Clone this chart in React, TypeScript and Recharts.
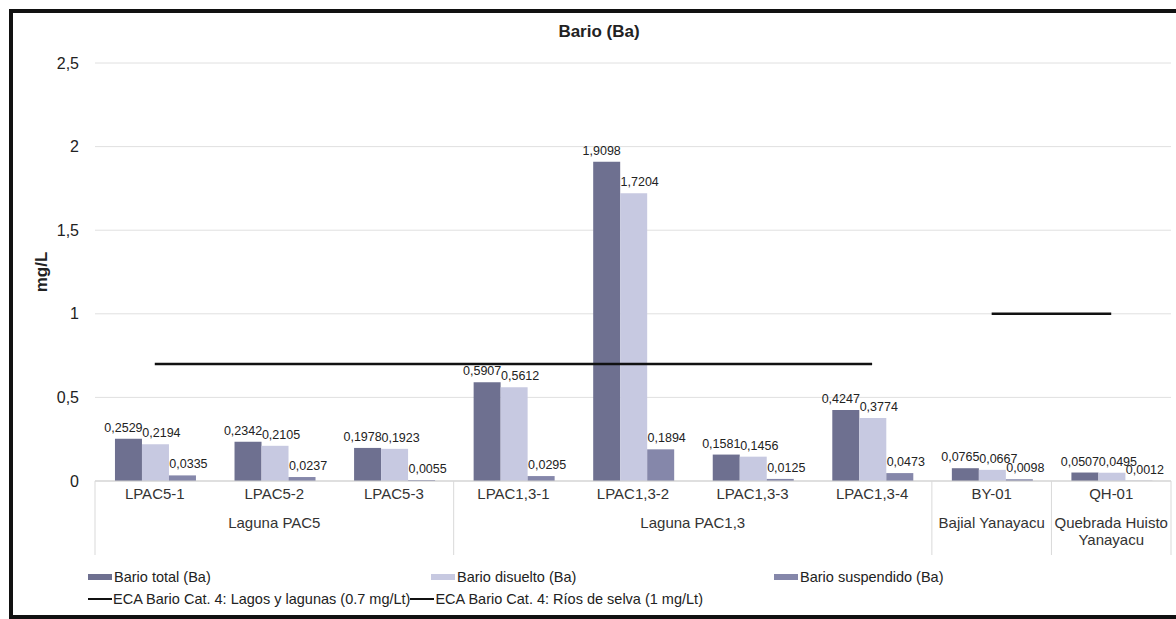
import { ComposedChart, Bar, Line, XAxis, YAxis, CartesianGrid, Legend, LabelList } from "recharts"

const estaciones = ["LPAC5-1", "LPAC5-2", "LPAC5-3", "LPAC1,3-1", "LPAC1,3-2", "LPAC1,3-3", "LPAC1,3-4", "BY-01", "QH-01"]
const grupos = [
  "Laguna PAC5",
  "Laguna PAC5",
  "Laguna PAC5",
  "Laguna PAC1,3",
  "Laguna PAC1,3",
  "Laguna PAC1,3",
  "Laguna PAC1,3",
  "Bajial Yanayacu",
  "Quebrada Huisto Yanayacu",
]
const barioTotal = [0.2529, 0.2342, 0.1978, 0.5907, 1.9098, 0.1581, 0.4247, 0.0765, 0.0507]
const barioDisuelto = [0.2194, 0.2105, 0.1923, 0.5612, 1.7204, 0.1456, 0.3774, 0.0667, 0.0495]
const barioSuspendido = [0.0335, 0.0237, 0.0055, 0.0295, 0.1894, 0.0125, 0.0473, 0.0098, 0.0012]
const ecaLagos = [0.7, 0.7, 0.7, 0.7, 0.7, 0.7, 0.7, null, null]
const ecaRios = [null, null, null, null, null, null, null, 1, 1]
const yTicks = [0, 0.5, 1, 1.5, 2, 2.5]

const series = [
  "Bario total (Ba)",
  "Bario disuelto (Ba)",
  "Bario suspendido (Ba)",
  "ECA Bario Cat. 4: Lagos y lagunas (0.7 mg/Lt)",
  "ECA Bario Cat. 4: Ríos de selva (1 mg/Lt)",
]

const data = estaciones.map((estacion, i) => ({
  estacion,
  grupo: grupos[i],
  total: barioTotal[i],
  disuelto: barioDisuelto[i],
  suspendido: barioSuspendido[i],
  lagos: ecaLagos[i],
  rios: ecaRios[i],
}))

const FONT = '"Liberation Sans", Arial, sans-serif'
const WIDTH = 1176
const HEIGHT = 619
const MARGIN = { top: 63, right: 5, bottom: 0, left: 35 }
const Y_AXIS_WIDTH = 60
const X_AXIS_HEIGHT = 138
const AXIS_Y = HEIGHT - MARGIN.bottom - X_AXIS_HEIGHT
const BAND = (WIDTH - MARGIN.right - MARGIN.left - Y_AXIS_WIDTH) / estaciones.length

const coma = (v: number, dec?: number) =>
  (dec != null ? Number(v).toFixed(dec) : String(v)).replace(".", ",")

// partir etiqueta larga en varias lineas segun el ancho de la categoria
function partir(texto: string, ancho: number) {
  const lineas: string[] = []
  let actual = ""
  for (const palabra of texto.split(" ")) {
    const prueba = actual ? actual + " " + palabra : palabra
    if (prueba.length * 7.6 > ancho && actual) {
      lineas.push(actual)
      actual = palabra
    } else {
      actual = prueba
    }
  }
  if (actual) lineas.push(actual)
  return lineas
}

function EstacionTick(props: any) {
  const { x, payload } = props
  const i = payload.index
  const half = payload.offset || BAND / 2
  const grupo = grupos[i]
  const primero = i === 0 || grupos[i - 1] !== grupo
  const cuenta = grupos.filter((g) => g === grupo).length
  const inicio = x - half
  const centro = inicio + cuenta * half
  const ultimo = i === estaciones.length - 1
  return (
    <g>
      <text x={x} y={AXIS_Y + 18} textAnchor="middle" fontSize={15} fill="#333" fontFamily={FONT}>
        {payload.value}
      </text>
      {primero && (
        <>
          <line x1={inicio} x2={inicio} y1={AXIS_Y} y2={AXIS_Y + 74} stroke="#d9d9d9" />
          {partir(grupo, half * 2).map((l, k) => (
            <text
              key={k}
              x={centro}
              y={AXIS_Y + 47 + k * 17}
              textAnchor="middle"
              fontSize={15}
              fill="#333"
              fontFamily={FONT}
            >
              {l}
            </text>
          ))}
        </>
      )}
      {ultimo && <line x1={x + half} x2={x + half} y1={AXIS_Y} y2={AXIS_Y + 74} stroke="#d9d9d9" />}
    </g>
  )
}

function Leyenda({ payload }: any) {
  const items = [...(payload ?? [])].sort((a: any, b: any) => series.indexOf(a.value) - series.indexOf(b.value))
  const barras = items.filter((e: any) => e.type !== "line")
  const lineas = items.filter((e: any) => e.type === "line")
  return (
    <div style={{ fontFamily: FONT, fontSize: 14.5, color: "#222", lineHeight: "22px" }}>
      <div style={{ display: "flex" }}>
        {barras.map((e: any) => (
          <div key={e.value} style={{ width: 343, display: "flex", alignItems: "center" }}>
            <span style={{ width: 24, height: 6, background: e.color, marginRight: 2 }} />
            <span>{e.value}</span>
          </div>
        ))}
      </div>
      <div style={{ display: "flex" }}>
        {lineas.map((e: any) => (
          <div key={e.value} style={{ display: "flex", alignItems: "center" }}>
            <span style={{ width: 24, height: 2, background: e.color, marginRight: 1 }} />
            <span>{e.value}</span>
          </div>
        ))}
      </div>
    </div>
  )
}

const labelStyle = { fontSize: 12.5, fill: "#222", fontFamily: FONT }

export default function App() {
  return (
    <div style={{ position: "absolute", left: 0, top: 0, width: WIDTH, height: HEIGHT, background: "#fff", overflow: "hidden" }}>
      <div
        style={{
          position: "absolute",
          left: 500,
          width: 198,
          top: 22,
          textAlign: "center",
          fontFamily: FONT,
          fontWeight: "bold",
          fontSize: 17,
          color: "#222",
          lineHeight: "20px",
        }}
      >
        Bario (Ba)
      </div>
      <ComposedChart width={WIDTH} height={HEIGHT} data={data} margin={MARGIN} barGap={0} barCategoryGap="16.7%">
        <CartesianGrid vertical={false} stroke="#e0e0e0" />
        <XAxis
          dataKey="estacion"
          height={X_AXIS_HEIGHT}
          tick={<EstacionTick />}
          tickLine={false}
          tickSize={0}
          tickMargin={0}
          interval={0}
          axisLine={{ stroke: "#cfcfcf" }}
        />
        <YAxis
          width={Y_AXIS_WIDTH}
          domain={[0, 2.5]}
          ticks={yTicks}
          tickFormatter={(v) => coma(v)}
          axisLine={false}
          tickLine={false}
          tickSize={6}
          tickMargin={10}
          tick={{ fontSize: 16, fill: "#222", fontFamily: FONT }}
          label={{
            value: "mg/L",
            angle: -90,
            position: "center",
            dx: -24,
            style: { fontSize: 17, fontWeight: "bold", fill: "#222", fontFamily: FONT },
          }}
        />
        <Legend
          content={<Leyenda />}
          layout="horizontal"
          verticalAlign="middle"
          wrapperStyle={{ left: 88, top: 566, width: 1060 }}
        />
        <Bar dataKey="total" name={series[0]} fill="#6e7090" isAnimationActive={false}>
          <LabelList dataKey="total" position="top" offset={7} dx={-5} formatter={(v: any) => coma(v, 4)} style={labelStyle} />
        </Bar>
        <Bar dataKey="disuelto" name={series[1]} fill="#c7c9e1" isAnimationActive={false}>
          <LabelList dataKey="disuelto" position="top" offset={7} dx={6} formatter={(v: any) => coma(v, 4)} style={labelStyle} />
        </Bar>
        <Bar dataKey="suspendido" name={series[2]} fill="#8587aa" isAnimationActive={false}>
          <LabelList dataKey="suspendido" position="top" offset={7} dx={6} formatter={(v: any) => coma(v, 4)} style={labelStyle} />
        </Bar>
        <Line
          dataKey="lagos"
          name={series[3]}
          stroke="#111"
          strokeWidth={2.5}
          dot={false}
          activeDot={false}
          legendType="line"
          isAnimationActive={false}
        />
        <Line
          dataKey="rios"
          name={series[4]}
          stroke="#111"
          strokeWidth={2.5}
          dot={false}
          activeDot={false}
          legendType="line"
          isAnimationActive={false}
        />
      </ComposedChart>
      <div
        style={{
          position: "absolute",
          left: 9,
          top: 9,
          width: 1220,
          height: 610,
          boxSizing: "border-box",
          border: "4px solid #111",
          pointerEvents: "none",
        }}
      />
    </div>
  )
}
